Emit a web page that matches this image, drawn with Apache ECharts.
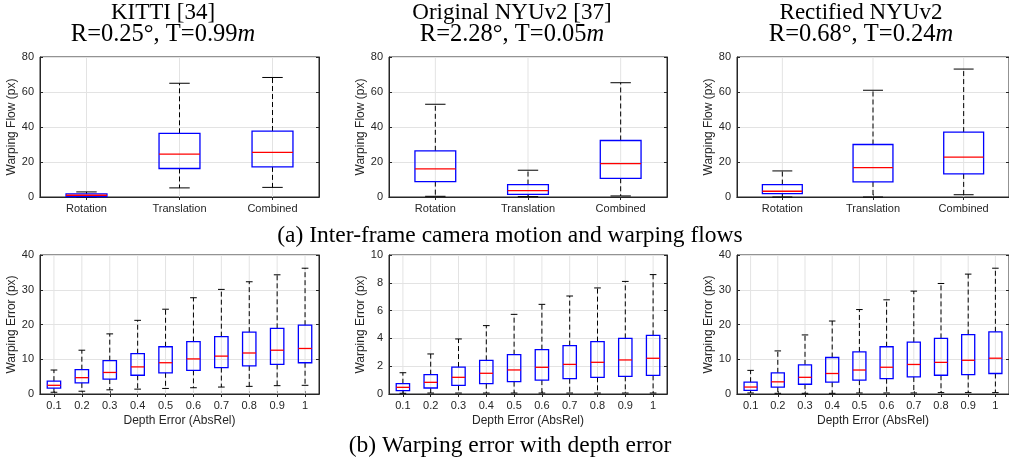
<!DOCTYPE html>
<html>
<head>
<meta charset="utf-8">
<script src="https://cdn.jsdelivr.net/npm/echarts@6/dist/echarts.min.js"></script>
<style>
  html, body { margin: 0; padding: 0; background: #fff; }
  #main { width: 1009px; height: 463px; }
</style>
</head>
<body>
<div id="main"></div>
<script>
  // categories
  var flowCats = ['Rotation', 'Translation', 'Combined'];
  var depthCats = ['0.1', '0.2', '0.3', '0.4', '0.5', '0.6', '0.7', '0.8', '0.9', '1'];

  // [min, q1, median, q3, max]
  var kittiFlow = [
    [0, 0.3, 1.0, 1.8, 2.9],
    [5.2, 16.3, 24.5, 36.4, 65],
    [5.5, 17.2, 25.5, 37.7, 68.3]
  ];
  var nyuFlow = [
    [0.4, 8.8, 16.1, 26.4, 53],
    [0.2, 1.5, 3.6, 7.1, 15.3],
    [0.6, 10.7, 19.1, 32.3, 65.3]
  ];
  var rectFlow = [
    [0, 1.9, 3.3, 7.1, 14.9],
    [0, 8.6, 16.8, 30, 61],
    [1.3, 13.2, 22.8, 37.1, 73.1]
  ];

  var kittiErr = [
    [0.5, 1.7, 2.5, 3.7, 6.9],
    [0.8, 3.2, 4.7, 7.0, 12.6],
    [1.2, 4.3, 6.2, 9.6, 17.3],
    [1.4, 5.4, 7.8, 11.6, 21.2],
    [1.6, 6.1, 9.0, 13.6, 24.4],
    [1.8, 6.8, 10.1, 15.1, 27.7],
    [2.0, 7.6, 10.9, 16.5, 30.1],
    [2.2, 8.1, 11.8, 17.8, 32.3],
    [2.4, 8.5, 12.6, 18.9, 34.3],
    [2.5, 9.0, 13.1, 19.8, 36.2]
  ];
  var nyuErr = [
    [0.05, 0.24, 0.48, 0.74, 1.53],
    [0.07, 0.43, 0.84, 1.39, 2.88],
    [0.07, 0.62, 1.2, 1.94, 3.96],
    [0.07, 0.74, 1.49, 2.42, 4.92],
    [0.07, 0.89, 1.73, 2.83, 5.73],
    [0.07, 1.0, 1.92, 3.19, 6.45],
    [0.07, 1.1, 2.13, 3.48, 7.05],
    [0.07, 1.2, 2.28, 3.77, 7.63],
    [0.07, 1.27, 2.45, 4.0, 8.1],
    [0.07, 1.34, 2.57, 4.22, 8.59]
  ];
  var rectErr = [
    [0.3, 1.05, 2.0, 3.4, 6.8],
    [0.2, 2.0, 3.5, 6.1, 12.4],
    [0.2, 2.8, 4.8, 8.4, 17.0],
    [0.2, 3.4, 5.9, 10.5, 21.0],
    [0.3, 4.0, 6.9, 12.1, 24.3],
    [0.3, 4.4, 7.7, 13.6, 27.1],
    [0.3, 4.9, 8.5, 14.9, 29.6],
    [0.4, 5.4, 9.1, 16.0, 31.8],
    [0.4, 5.6, 9.7, 17.1, 34.5],
    [0.4, 5.9, 10.3, 17.9, 36.2]
  ];

  var myChart = echarts.init(document.getElementById('main'));

  var axisColor = '#262626';
  var gridColor = '#e3e3e3';
  var sans = '"Liberation Sans", Arial, sans-serif';
  var serif = '"Liberation Serif", "Times New Roman", serif';

  // panel layout
  var panels = [
    { left: 40, top: 57, width: 279, height: 140, cats: flowCats, data: kittiFlow, max: 80, step: 20, yName: 'Warping Flow (px)', xName: '', box: 0.44 },
    { left: 389, top: 57, width: 278, height: 140, cats: flowCats, data: nyuFlow, max: 80, step: 20, yName: 'Warping Flow (px)', xName: '', box: 0.44 },
    { left: 737, top: 57, width: 280, height: 140, cats: flowCats, data: rectFlow, max: 80, step: 20, yName: 'Warping Flow (px)', xName: '', box: 0.44 },
    { left: 40, top: 255, width: 279, height: 139, cats: depthCats, data: kittiErr, max: 40, step: 10, yName: 'Warping Error (px)', xName: 'Depth Error (AbsRel)', box: 0.48 },
    { left: 389, top: 255, width: 278, height: 139, cats: depthCats, data: nyuErr, max: 10, step: 2, yName: 'Warping Error (px)', xName: 'Depth Error (AbsRel)', box: 0.48 },
    { left: 737, top: 255, width: 280, height: 139, cats: depthCats, data: rectErr, max: 40, step: 10, yName: 'Warping Error (px)', xName: 'Depth Error (AbsRel)', box: 0.48 }
  ];

  function makeRender(boxRatio) {
    return function (params, api) {
      var idx = api.value(0);
      var cs = params.coordSys;
      var pMin = api.coord([idx, api.value(1)]);
      var pQ1 = api.coord([idx, api.value(2)]);
      var pMed = api.coord([idx, api.value(3)]);
      var pQ3 = api.coord([idx, api.value(4)]);
      var pMax = api.coord([idx, api.value(5)]);
      var band = api.size([1, 0])[0];
      var bw = band * boxRatio;
      var cap = bw * 0.5;
      var x = pMed[0];
      var dash = { stroke: '#000', lineWidth: 1, lineDash: [5, 3] };
      return {
        type: 'group',
        children: [
          // vertical grid line at category centre
          { type: 'line', shape: { x1: x, y1: cs.y, x2: x, y2: cs.y + cs.height }, style: { stroke: gridColor, lineWidth: 1 } },
          { type: 'line', shape: { x1: x, y1: pQ3[1], x2: x, y2: pMax[1] }, style: dash },
          { type: 'line', shape: { x1: x, y1: pQ1[1], x2: x, y2: pMin[1] }, style: dash },
          { type: 'line', shape: { x1: x - cap / 2, y1: pMax[1], x2: x + cap / 2, y2: pMax[1] }, style: { stroke: '#000', lineWidth: 1 } },
          { type: 'line', shape: { x1: x - cap / 2, y1: pMin[1], x2: x + cap / 2, y2: pMin[1] }, style: { stroke: '#000', lineWidth: 1 } },
          { type: 'rect', shape: { x: x - bw / 2, y: pQ3[1], width: bw, height: pQ1[1] - pQ3[1] }, style: { stroke: '#0000ff', fill: 'none', lineWidth: 1.3 } },
          { type: 'line', shape: { x1: x - bw / 2, y1: pMed[1], x2: x + bw / 2, y2: pMed[1] }, style: { stroke: '#ff0000', lineWidth: 1.3 } }
        ]
      };
    };
  }

  var grids = [], xAxes = [], yAxes = [], series = [];
  panels.forEach(function (p, i) {
    grids.push({
      left: p.left, top: p.top, width: p.width, height: p.height,
      show: true, borderColor: axisColor, borderWidth: 1, backgroundColor: '#fff'
    });
    var tick = { show: true, inside: true, length: 3, lineStyle: { color: axisColor } };
    xAxes.push({
      type: 'category', gridIndex: i, data: p.cats,
      name: p.xName, nameLocation: 'middle', nameGap: 21,
      nameTextStyle: { fontFamily: sans, fontSize: 12, color: axisColor },
      axisLine: { show: true, lineStyle: { color: axisColor } },
      axisTick: Object.assign({ alignWithLabel: true }, tick),
      axisLabel: { fontFamily: sans, fontSize: 11, color: axisColor, margin: 6, interval: 0 },
      splitLine: { show: false }
    });
    // top edge ticks (box on)
    xAxes.push({
      type: 'category', gridIndex: i, data: p.cats, position: 'top',
      axisLine: { show: true, lineStyle: { color: axisColor } },
      axisTick: Object.assign({ alignWithLabel: true }, tick),
      axisLabel: { show: false },
      splitLine: { show: false }
    });
    yAxes.push({
      type: 'value', gridIndex: i, min: 0, max: p.max, interval: p.step,
      name: p.yName, nameLocation: 'middle', nameGap: 18,
      nameTextStyle: { fontFamily: sans, fontSize: 12, color: axisColor },
      axisLine: { show: true, lineStyle: { color: axisColor } },
      axisTick: tick,
      axisLabel: { fontFamily: sans, fontSize: 11, color: axisColor, margin: 6 },
      splitLine: { show: true, lineStyle: { color: gridColor, width: 1 } }
    });
    // right edge ticks
    yAxes.push({
      type: 'value', gridIndex: i, min: 0, max: p.max, interval: p.step, position: 'right',
      axisLine: { show: true, lineStyle: { color: axisColor } },
      axisTick: tick,
      axisLabel: { show: false },
      splitLine: { show: false }
    });
    series.push({
      type: 'custom', xAxisIndex: i * 2, yAxisIndex: i * 2,
      renderItem: makeRender(p.box),
      encode: { x: 0, y: [1, 2, 3, 4, 5] },
      data: p.data.map(function (d, k) { return [k].concat(d); }),
      clip: false
    });
  });

  function titleText(x, y, text, size) {
    return {
      type: 'text', x: x, y: y,
      style: {
        text: text, fontFamily: serif, fontSize: size, fill: '#000',
        textAlign: 'center', textVerticalAlign: 'middle',
        rich: { i: { fontFamily: serif, fontSize: size, fontStyle: 'italic', fill: '#000' } }
      }
    };
  }

  function caption(y, text) {
    return {
      type: 'text', x: 510, y: y,
      style: { text: text, fontFamily: serif, fontSize: 23.5, fill: '#000', textAlign: 'center', textVerticalAlign: 'middle' }
    };
  }

  myChart.setOption({
    animation: false,
    grid: grids,
    xAxis: xAxes,
    yAxis: yAxes,
    series: series,
    graphic: [
      titleText(163, 12.5, 'KITTI [34]', 23),
      titleText(163, 35, 'R=0.25°, T=0.99{i|m}', 24.5),
      titleText(512, 12.5, 'Original NYUv2 [37]', 23),
      titleText(512, 35, 'R=2.28°, T=0.05{i|m}', 24.5),
      titleText(861, 12.5, 'Rectified NYUv2', 23),
      titleText(861, 35, 'R=0.68°, T=0.24{i|m}', 24.5),
      caption(235.5, '(a) Inter-frame camera motion and warping flows'),
      caption(446, '(b) Warping error with depth error')
    ]
  });
</script>
</body>
</html>
